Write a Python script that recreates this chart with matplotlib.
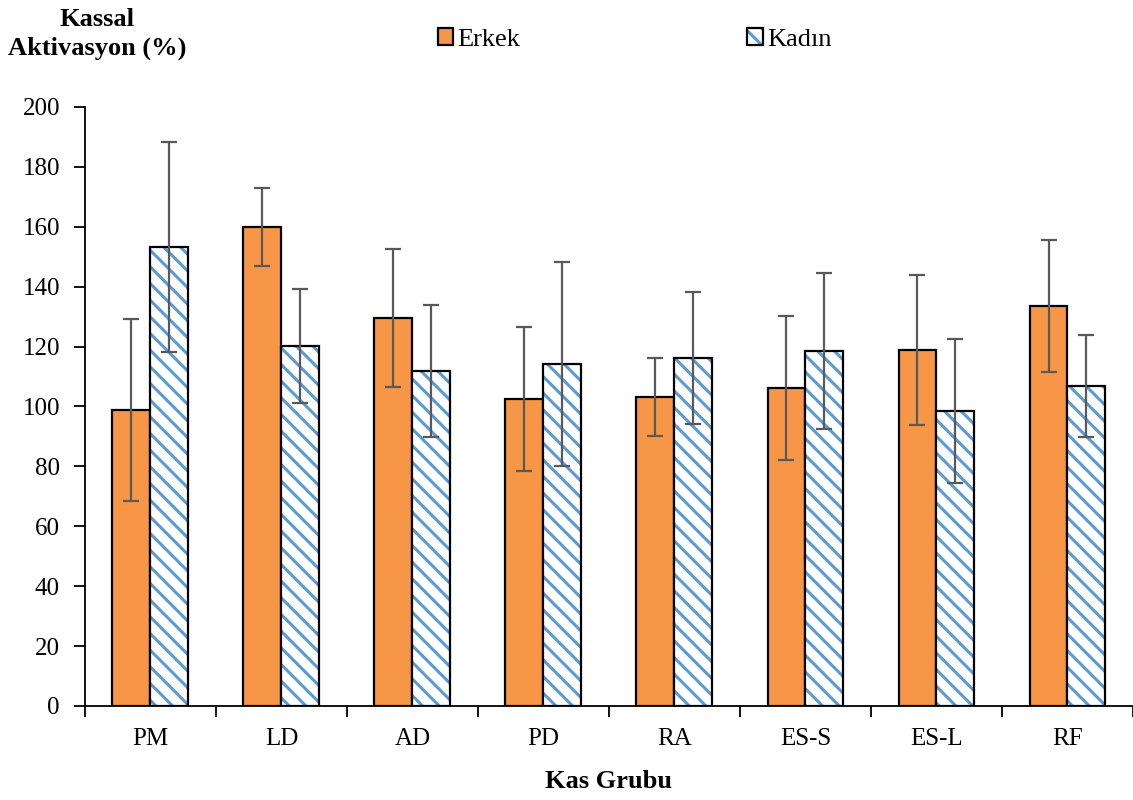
import numpy as np
import matplotlib.pyplot as plt
from matplotlib.legend_handler import HandlerTuple

plt.rcParams['font.family'] = ['Liberation Serif', 'DejaVu Serif']
plt.rcParams['hatch.linewidth'] = 2.2

groups = ['PM', 'LD', 'AD', 'PD', 'RA', 'ES-S', 'ES-L', 'RF']
erkek = [98.8, 160.0, 129.5, 102.5, 103.2, 106.2, 118.9, 133.6]
erkek_sd = [30.5, 13.0, 23.0, 24.0, 13.0, 24.0, 25.0, 22.0]
kadin = [153.3, 120.2, 111.9, 114.2, 116.2, 118.5, 98.5, 106.8]
kadin_sd = [35.0, 19.0, 22.0, 34.0, 22.0, 26.0, 24.0, 17.0]

fig = plt.figure(figsize=(11.33, 8), dpi=100)
ax = fig.add_axes([0.075, 0.1175, 0.925, 0.7488])

x = np.arange(len(groups))
w = 0.29
blue = '#5B9BD5'
err_kw = dict(ecolor='#595959', elinewidth=1.6, capsize=6, capthick=1.6, zorder=4)

b1 = ax.bar(x - w / 2, erkek, w, color='#F79646', edgecolor='black', linewidth=1.6,
            yerr=erkek_sd, error_kw=err_kw, zorder=2)
# hatch colour follows edgecolor, so draw the stripes and the black outline apart
b2 = ax.bar(x + w / 2, kadin, w, color='white', edgecolor=blue, linewidth=0,
            hatch='\\\\', zorder=2)
b3 = ax.bar(x + w / 2, kadin, w, fill=False, edgecolor='black', linewidth=1.6,
            yerr=kadin_sd, error_kw=err_kw, zorder=3)

ax.set_xlim(-0.5, len(groups) - 0.5)
ax.set_ylim(0, 200)
ax.set_yticks(np.arange(0, 201, 20))
ax.set_xticks(x)
ax.set_xticklabels(groups)
ax.set_xticks(np.arange(-0.5, len(groups)), minor=True)
ax.tick_params(axis='x', which='major', length=0, labelsize=18, pad=16)
ax.tick_params(axis='x', which='minor', length=8, width=1.3, direction='out')
ax.tick_params(axis='y', length=8, width=1.3, labelsize=18, pad=10)
for s in ['top', 'right']:
    ax.spines[s].set_visible(False)
for s in ['left', 'bottom']:
    ax.spines[s].set_linewidth(1.3)

ax.set_xlabel('Kas Grubu', fontsize=19, fontweight='bold', labelpad=14)

fig.text(0.086, 0.958, 'Kassal\nAktivasyon (%)', ha='center', va='center',
         ma='center', fontsize=19, fontweight='bold', linespacing=1.3)

fig.legend([b1[0], (b2[0], b3[0])], ['Erkek', 'Kadın'],
           handler_map={tuple: HandlerTuple(ndivide=1)},
           loc='center', bbox_to_anchor=(0.56, 0.951), ncol=2, frameon=False,
           fontsize=19, handlelength=0.6, handleheight=0.6, handletextpad=0.15,
           columnspacing=8.6)

fig.savefig('out.png', dpi=100)
